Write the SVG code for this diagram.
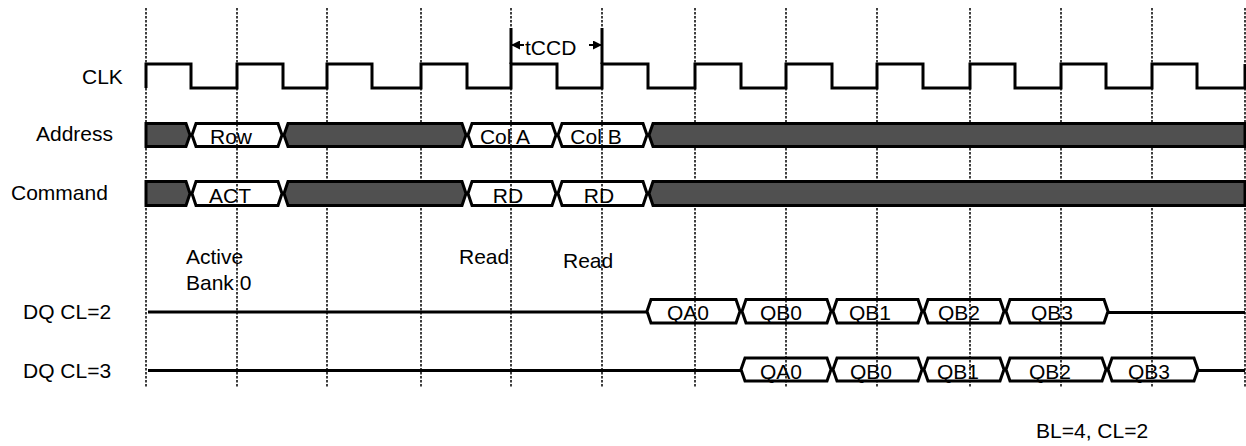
<svg xmlns="http://www.w3.org/2000/svg" width="1246" height="446" viewBox="0 0 1246 446">
<style>
  text { font-family: "Liberation Sans", Arial, sans-serif; font-size: 21px; fill: #000; }
  .grid { stroke: #000; stroke-width: 1.5; stroke-dasharray: 2.5 1.5; fill: none; }
  .wave { stroke: #000; stroke-width: 3; fill: none; stroke-linejoin: miter; }
  .dark { stroke: #000; stroke-width: 3; fill: #505050; stroke-linejoin: miter; }
  .seg { stroke: #000; stroke-width: 3; fill: none; stroke-linejoin: miter; }
  .mid { text-anchor: middle; }
</style>
<defs>
  <marker id="ah" markerWidth="9" markerHeight="9" refX="8" refY="4.5" orient="auto" markerUnits="userSpaceOnUse">
    <path d="M0,0 L9,4.5 L0,9 Z" fill="#000"/>
  </marker>
</defs>
<rect width="1246" height="446" fill="#fff"/>
<g id="gridlines">
  <line class="grid" x1="146" y1="8" x2="146" y2="387"/>
  <line class="grid" x1="237" y1="8" x2="237" y2="387"/>
  <line class="grid" x1="327" y1="8" x2="327" y2="387"/>
  <line class="grid" x1="421" y1="8" x2="421" y2="387"/>
  <line class="grid" x1="511" y1="8" x2="511" y2="387"/>
  <line class="grid" x1="602" y1="8" x2="602" y2="387"/>
  <line class="grid" x1="695" y1="8" x2="695" y2="387"/>
  <line class="grid" x1="786" y1="8" x2="786" y2="387"/>
  <line class="grid" x1="877" y1="8" x2="877" y2="387"/>
  <line class="grid" x1="970" y1="8" x2="970" y2="387"/>
  <line class="grid" x1="1061" y1="8" x2="1061" y2="387"/>
  <line class="grid" x1="1152" y1="8" x2="1152" y2="387"/>
  <line class="grid" x1="1245" y1="8" x2="1245" y2="387"/>
</g>
<g id="labels">
  <text x="82" y="83.5">CLK</text>
  <text x="36" y="141">Address</text>
  <text x="11" y="200">Command</text>
  <text x="23" y="319">DQ CL=2</text>
  <text x="23" y="377.5">DQ CL=3</text>
</g>
<g id="clk">
  <path class="wave" d="M146,88 V64 H191 V88 H237 V64 H283 V88 H327 V64 H372 V88 H421 V64 H467 V88 H511 V64 H557 V88 H602 V64 H648 V88 H695 V64 H741 V88 H786 V64 H832 V88 H877 V64 H923 V88 H970 V64 H1015 V88 H1061 V64 H1106 V88 H1152 V64 H1197 V88 H1245 V64"/>
</g>
<g id="tccd">
  <line x1="511" y1="28" x2="511" y2="64" stroke="#000" stroke-width="3"/>
  <line x1="602" y1="28" x2="602" y2="64" stroke="#000" stroke-width="3"/>
  <line x1="524" y1="45" x2="512" y2="45" stroke="#000" stroke-width="2" marker-end="url(#ah)"/>
  <line x1="589" y1="45" x2="601" y2="45" stroke="#000" stroke-width="2" marker-end="url(#ah)"/>
  <text x="525" y="54.5">tCCD</text>
</g>
<g id="address">
  <path class="dark" d="M146,123.5 H186 L190,135 L186,146.5 H146 Z"/>
  <path class="seg" d="M192,135 L196,123.5 H278 L282,135 L278,146.5 H196 Z"/>
  <path class="dark" d="M284,135 L288,123.5 H462 L466,135 L462,146.5 H288 Z"/>
  <path class="seg" d="M468,135 L472,123.5 H552 L556,135 L552,146.5 H472 Z"/>
  <path class="seg" d="M558,135 L562,123.5 H643 L647,135 L643,146.5 H562 Z"/>
  <path class="dark" d="M649,135 L653,123.5 H1245 V146.5 H653 Z"/>
  <text class="mid" x="231" y="143.5">Row</text>
  <text class="mid" x="505" y="143.5">Col A</text>
  <text class="mid" x="596" y="143.5">Col B</text>
</g>
<g id="command">
  <path class="dark" d="M146,181.5 H186 L190,193.5 L186,205.5 H146 Z"/>
  <path class="seg" d="M192,193.5 L196,181.5 H278 L282,193.5 L278,205.5 H196 Z"/>
  <path class="dark" d="M284,193.5 L288,181.5 H462 L466,193.5 L462,205.5 H288 Z"/>
  <path class="seg" d="M468,193.5 L472,181.5 H552 L556,193.5 L552,205.5 H472 Z"/>
  <path class="seg" d="M558,193.5 L562,181.5 H643 L647,193.5 L643,205.5 H562 Z"/>
  <path class="dark" d="M649,193.5 L653,181.5 H1245 V205.5 H653 Z"/>
  <text class="mid" x="230" y="202.5">ACT</text>
  <text class="mid" x="508" y="202.5">RD</text>
  <text class="mid" x="599" y="202.5">RD</text>
</g>
<g id="notes">
  <text x="186" y="263.5">Active</text>
  <text x="186" y="290">Bank 0</text>
  <text x="459" y="264">Read</text>
  <text x="563" y="267.5">Read</text>
  <text x="1036" y="437.5">BL=4, CL=2</text>
</g>
<g id="dq2">
  <line class="wave" x1="148" y1="312" x2="647" y2="312"/>
  <path class="seg" d="M647,311.3 L651,299.5 H736 L740,311.3 L736,323 H651 Z"/>
  <path class="seg" d="M742,311.3 L746,299.5 H827 L831,311.3 L827,323 H746 Z"/>
  <path class="seg" d="M833,311.3 L837,299.5 H918 L922,311.3 L918,323 H837 Z"/>
  <path class="seg" d="M924,311.3 L928,299.5 H1000 L1004,311.3 L1000,323 H928 Z"/>
  <path class="seg" d="M1006,311.3 L1010,299.5 H1104 L1108,311.3 L1104,323 H1010 Z"/>
  <line class="wave" x1="1108" y1="312.5" x2="1245" y2="312.5"/>
  <text class="mid" x="688" y="320">QA0</text>
  <text class="mid" x="781" y="320">QB0</text>
  <text class="mid" x="870" y="320">QB1</text>
  <text class="mid" x="959" y="320">QB2</text>
  <text class="mid" x="1052" y="320">QB3</text>
</g>
<g id="dq3">
  <line class="wave" x1="148" y1="370.5" x2="741" y2="370.5"/>
  <path class="seg" d="M741,369.5 L745,358 H827 L831,369.5 L827,381 H745 Z"/>
  <path class="seg" d="M833,369.5 L837,358 H918 L922,369.5 L918,381 H837 Z"/>
  <path class="seg" d="M924,369.5 L928,358 H1000 L1004,369.5 L1000,381 H928 Z"/>
  <path class="seg" d="M1006,369.5 L1010,358 H1102 L1106,369.5 L1102,381 H1010 Z"/>
  <path class="seg" d="M1108,369.5 L1112,358 H1194 L1198,369.5 L1194,381 H1112 Z"/>
  <line class="wave" x1="1198" y1="370.5" x2="1245" y2="370.5"/>
  <text class="mid" x="781" y="378.5">QA0</text>
  <text class="mid" x="871" y="378.5">QB0</text>
  <text class="mid" x="958" y="378.5">QB1</text>
  <text class="mid" x="1050" y="378.5">QB2</text>
  <text class="mid" x="1149" y="378.5">QB3</text>
</g>
</svg>
